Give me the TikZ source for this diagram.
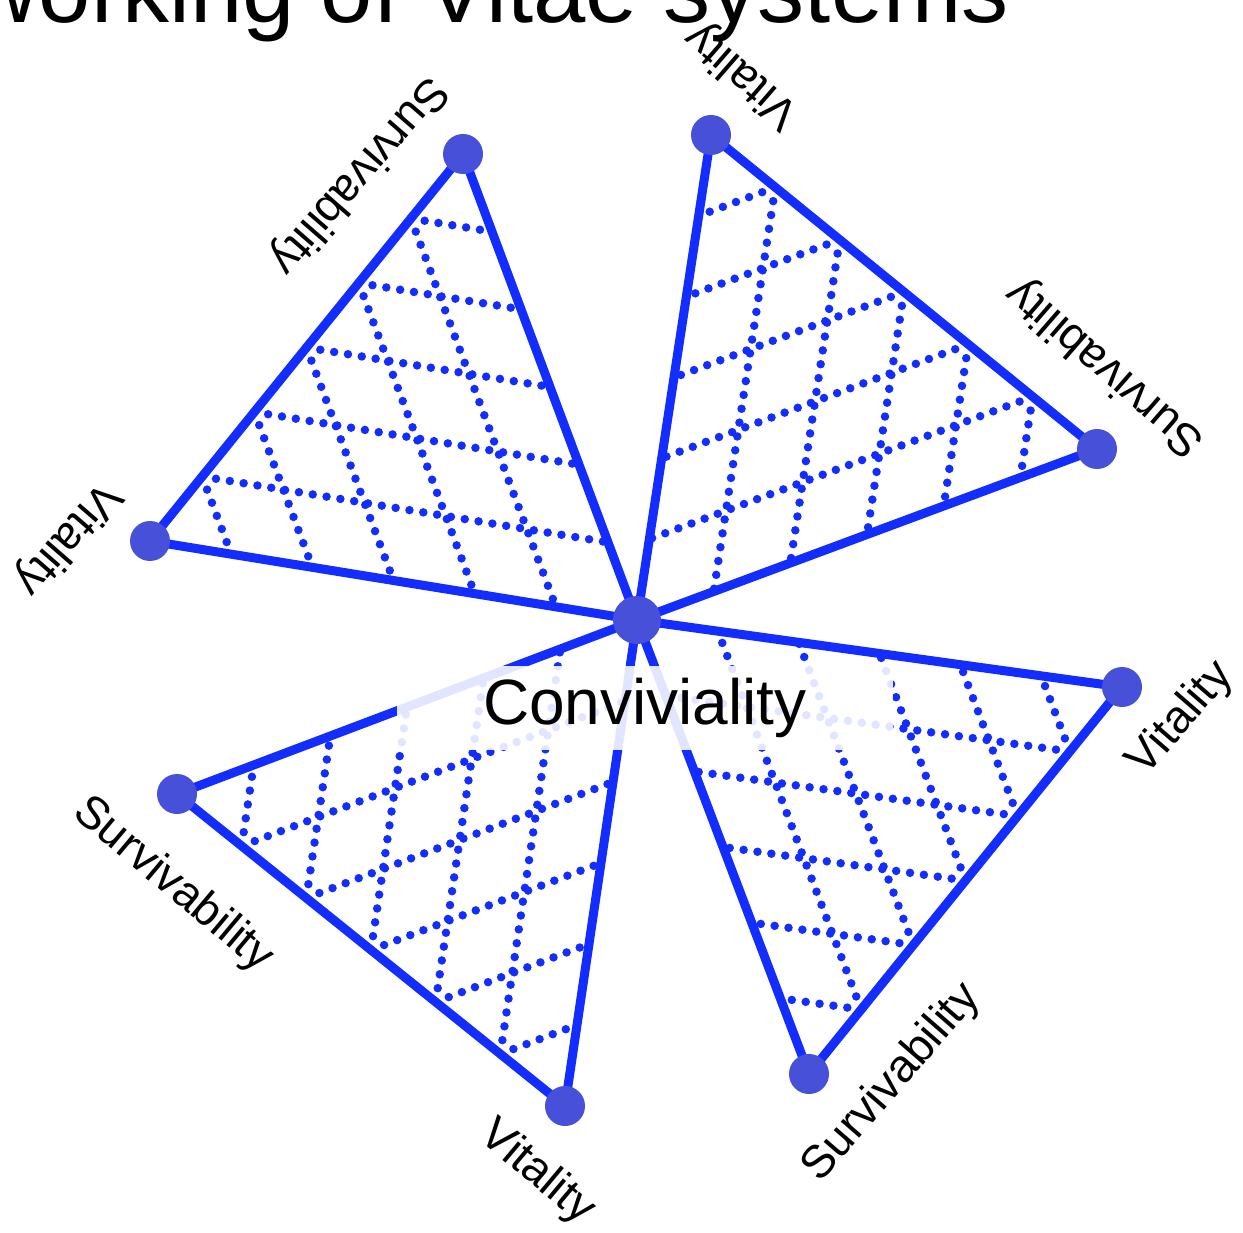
\documentclass[tikz,border=0pt]{standalone}
\usepackage{fontspec}
\setmainfont{Liberation Sans}
\usetikzlibrary{calc,backgrounds}
\definecolor{edgeblue}{RGB}{20,45,255}
\definecolor{nodeblue}{RGB}{70,80,216}
\newcommand\ternarygrid[3]{% #1 hub, #2 vitality vertex, #3 survivability vertex
  \foreach \k in {1,...,5}{
    \draw[gridline] ($(#3)!\k/6!(#2)$) -- ($(#3)!\k/6!(#1)$);
    \draw[gridline] ($(#3)!\k/6!(#2)$) -- ($(#2)!{1-\k/6}!(#1)$);
  }%
}
\begin{document}
\begin{tikzpicture}[x=1pt,y=-1pt,
  vertex/.style={circle,fill=nodeblue,minimum size=40pt,inner sep=0pt},
  hub/.style={circle,fill=nodeblue,minimum size=48pt,inner sep=0pt},
  edge/.style={edgeblue,line width=9pt},
  gridline/.style={edgeblue,line width=8.5pt,line cap=round,dash pattern=on 0pt off 14pt},
  axislabel/.style={font=\fontsize{46}{52}\selectfont,inner sep=0pt},
]
\useasboundingbox (0,0) rectangle (1243,1233);
\clip (0,0) rectangle (1243,1233);

% nodes
\node[hub] (c) at (637,620) {};
\node[vertex] (v1) at (150,541) {};
\node[vertex] (s1) at (463,154) {};
\node[vertex] (v2) at (711,135) {};
\node[vertex] (s2) at (1097,449) {};
\node[vertex] (v3) at (1122,687) {};
\node[vertex] (s3) at (809,1074) {};
\node[vertex] (v4) at (565,1106) {};
\node[vertex] (s4) at (177,794) {};

\begin{pgfonlayer}{background}
  \ternarygrid{c}{v1}{s1}
  \ternarygrid{c}{v2}{s2}
  \ternarygrid{c}{v3}{s3}
  \ternarygrid{c}{v4}{s4}
  \draw[edge] (c.center) -- (v1.center) -- (s1.center) -- cycle;
  \draw[edge] (c.center) -- (v2.center) -- (s2.center) -- cycle;
  \draw[edge] (c.center) -- (v3.center) -- (s3.center) -- cycle;
  \draw[edge] (c.center) -- (v4.center) -- (s4.center) -- cycle;
\end{pgfonlayer}

% axis labels
\node[axislabel,rotate=229] (l1s) at (358,175) {Survivability};
\node[axislabel,rotate=229] (l1v) at (67,538) {Vitality};
\node[axislabel,rotate=139] (l2v) at (743,75) {Vitality};
\node[axislabel,rotate=139] (l2s) at (1106,367) {Survivability};
\node[axislabel,rotate=49] (l3v) at (1181,719) {Vitality};
\node[axislabel,rotate=49] (l3s) at (892,1083) {Survivability};
\node[axislabel,rotate=-40] (l4s) at (173,885) {Survivability};
\node[axislabel,rotate=-40] (l4v) at (537,1173) {Vitality};

% centre label
\node[fill=white,fill opacity=0.88,text opacity=1,minimum width=496pt,minimum height=84pt,inner sep=0pt,
      font=\fontsize{64}{70}\selectfont] (conv) at (645,708) {Conviviality};

% title
\node[anchor=base east,inner sep=0pt,font=\fontsize{94}{100}\selectfont] (title) at (1009,23) {Networking of Vitae systems};
\end{tikzpicture}
\end{document}
